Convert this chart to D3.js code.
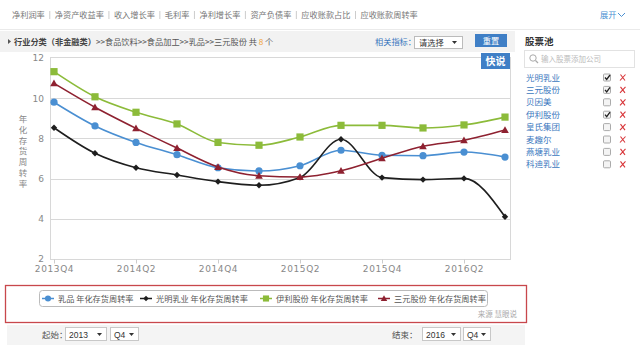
<!DOCTYPE html>
<html>
<head>
<meta charset="utf-8">
<script src="https://cdn.jsdelivr.net/npm/d3@7"></script>
<style>
  body { margin: 0; background: #fff; }
  svg { display: block; font-family: "Noto Sans CJK SC", "Noto Sans", sans-serif; }
</style>
</head>
<body>
<div id="chart"></div>
<script>
// Datos del gráfico
const quarters = ["2013Q4", "2014Q1", "2014Q2", "2014Q3", "2014Q4", "2015Q1",
                  "2015Q2", "2015Q3", "2015Q4", "2016Q1", "2016Q2", "2016Q3"];
const tickQuarters = ["2013Q4", "2014Q2", "2014Q4", "2015Q2", "2015Q4", "2016Q2"];
const yTicks = [2, 4, 6, 8, 10, 12];

const ruPin   = [9.80, 8.62, 7.80, 7.19, 6.54, 6.38, 6.64, 7.41, 7.16, 7.14, 7.32, 7.07];
const guangMing = [8.53, 7.26, 6.54, 6.18, 5.85, 5.67, 6.06, 7.96, 6.05, 5.95, 6.01, 4.10];
const yiLi    = [11.32, 10.07, 9.30, 8.72, 7.80, 7.66, 8.07, 8.65, 8.65, 8.52, 8.67, 9.06];
const sanYuan = [10.74, 9.55, 8.50, 7.52, 6.58, 6.14, 6.08, 6.39, 7.01, 7.61, 7.91, 8.42];

const seriesNames = ["乳品 年化存货周转率", "光明乳业 年化存货周转率", "伊利股份 年化存货周转率", "三元股份 年化存货周转率"];

const tabs = ["净利润率", "净资产收益率", "收入增长率", "毛利率", "净利增长率", "资产负债率", "应收账款占比", "应收账款周转率"];
const stockPool = ["光明乳业", "三元股份", "贝因美", "伊利股份", "皇氏集团", "麦趣尔", "燕塘乳业", "科迪乳业"];
const stockChecked = [true, true, false, true, false, false, false, false];

const series = [
    { name: seriesNames[0], values: ruPin, color: "#4a8fd2", marker: "circle" },
    { name: seriesNames[1], values: guangMing, color: "#1e1e1e", marker: "diamond" },
    { name: seriesNames[2], values: yiLi, color: "#8cbb3a", marker: "square" },
    { name: seriesNames[3], values: sanYuan, color: "#8e2130", marker: "triangle" }
];

const svg = d3.select("#chart").append("svg")
    .attr("width", 640)
    .attr("height", 352);

// Barra de pestañas superior
let tx = 12;
tabs.forEach((t, i) => {
    const txt = svg.append("text")
        .attr("x", tx).attr("y", 18)
        .attr("font-size", 8.2).attr("fill", "#777")
        .text(t);
    const w = txt.node().getComputedTextLength();
    if (i < tabs.length - 1) {
        svg.append("line")
            .attr("x1", tx + w + 5).attr("x2", tx + w + 5)
            .attr("y1", 11).attr("y2", 19)
            .attr("stroke", "#ccc");
    }
    tx += w + 10;
});
svg.append("text").attr("x", 600).attr("y", 18)
    .attr("font-size", 8.2).attr("fill", "#4a8fd2").text("展开");
svg.append("path").attr("d", "M618,13 L621.5,16.5 L625,13")
    .attr("fill", "none").attr("stroke", "#4a8fd2").attr("stroke-width", 1);
svg.append("line").attr("x1", 0).attr("x2", 640).attr("y1", 29.5).attr("y2", 29.5)
    .attr("stroke", "#eaeaea");

// Fila de migas de pan
svg.append("rect").attr("x", 0).attr("y", 31).attr("width", 515).attr("height", 21)
    .attr("fill", "#f2f2f2");
svg.append("path").attr("d", "M8,39 L11,41.5 L8,44 Z").attr("fill", "#555");
const crumb = svg.append("text").attr("x", 14).attr("y", 45)
    .attr("font-size", 8.2).attr("fill", "#555");
crumb.append("tspan").attr("font-weight", "bold").attr("fill", "#444").text("行业分类（非金融类）");
crumb.append("tspan").text(">>食品饮料>>食品加工>>乳品>>三元股份  共 ");
crumb.append("tspan").attr("fill", "#f0a030").text("8");
crumb.append("tspan").text(" 个");

svg.append("text").attr("x", 375).attr("y", 45)
    .attr("font-size", 8.2).attr("fill", "#3b78be").text("相关指标：");
svg.append("rect").attr("x", 414.5).attr("y", 36.5).attr("width", 48).attr("height", 12)
    .attr("fill", "#fff").attr("stroke", "#bbb");
svg.append("text").attr("x", 419).attr("y", 45.5)
    .attr("font-size", 8.2).attr("fill", "#333").text("请选择");
svg.append("path").attr("d", "M452,41 L457,41 L454.5,44 Z").attr("fill", "#333");
svg.append("rect").attr("x", 475).attr("y", 34).attr("width", 32).attr("height", 13)
    .attr("fill", "#3f7fc6");
svg.append("text").attr("x", 491).attr("y", 44).attr("text-anchor", "middle")
    .attr("font-size", 8.2).attr("fill", "#fff").text("重置");

// Área del gráfico
const x = d3.scalePoint().domain(quarters).range([54, 505]);
const y = d3.scaleLinear().domain([2, 12]).range([259, 58]);

svg.append("rect").attr("x", 50.5).attr("y", 57.5).attr("width", 460).attr("height", 202)
    .attr("fill", "none").attr("stroke", "#d8d8d8");

svg.append("g")
    .selectAll("line")
    .data(yTicks.filter(d => d > 2 && d < 12))
    .join("line")
    .attr("x1", 50).attr("x2", 511)
    .attr("y1", d => Math.round(y(d)) + 0.5).attr("y2", d => Math.round(y(d)) + 0.5)
    .attr("stroke", "#d8d8d8");

const yAxis = svg.append("g")
    .attr("transform", "translate(44,0)")
    .call(d3.axisLeft(y).tickValues(yTicks).tickSize(0).tickPadding(0));
yAxis.select(".domain").remove();
yAxis.selectAll("text").attr("font-size", 9).attr("fill", "#888")
    .attr("font-family", "'DejaVu Sans', sans-serif");

const xAxis = svg.append("g")
    .attr("transform", "translate(0,259.5)")
    .call(d3.axisBottom(x).tickValues(tickQuarters).tickSize(4).tickPadding(2));
xAxis.select(".domain").remove();
xAxis.selectAll("line").attr("stroke", "#ccc");
xAxis.selectAll("text").attr("font-size", 9).attr("fill", "#888")
    .attr("letter-spacing", 0.6)
    .attr("font-family", "'DejaVu Sans', sans-serif");

// Título eje Y (vertical)
const yTitle = "年化存货周转率";
svg.append("g").selectAll("text")
    .data(yTitle.split(""))
    .join("text")
    .attr("x", 23).attr("y", (d, i) => 122 + i * 10.8)
    .attr("text-anchor", "middle")
    .attr("font-size", 8.5).attr("fill", "#888")
    .text(d => d);

// Marcadores
function drawMarker(g, type, color, cx, cy, s) {
    if (type === "circle") {
        g.append("circle").attr("cx", cx).attr("cy", cy).attr("r", 3.6 * s).attr("fill", color);
    } else if (type === "square") {
        g.append("rect").attr("x", cx - 3.6 * s).attr("y", cy - 3.6 * s)
            .attr("width", 7.2 * s).attr("height", 7.2 * s).attr("fill", color);
    } else if (type === "diamond") {
        g.append("path").attr("d", `M${cx},${cy - 3.2 * s} L${cx + 3.2 * s},${cy} L${cx},${cy + 3.2 * s} L${cx - 3.2 * s},${cy} Z`)
            .attr("fill", color);
    } else {
        g.append("path").attr("d", `M${cx},${cy - 3.8 * s} L${cx + 3.8 * s},${cy + 3 * s} L${cx - 3.8 * s},${cy + 3 * s} Z`)
            .attr("fill", color);
    }
}

const line = d3.line()
    .x((d, i) => x(quarters[i]))
    .y(d => y(d))
    .curve(d3.curveMonotoneX);

series.forEach(s => {
    const g = svg.append("g");
    g.append("path")
        .attr("d", line(s.values))
        .attr("fill", "none")
        .attr("stroke", s.color)
        .attr("stroke-width", 1.6);
    s.values.forEach((v, i) => drawMarker(g, s.marker, s.color, x(quarters[i]), y(v), 1));
});

// Insignia "快说"
svg.append("rect").attr("x", 481).attr("y", 53).attr("width", 29).attr("height", 16)
    .attr("fill", "#3f7fc6");
svg.append("text").attr("x", 495.5).attr("y", 65).attr("text-anchor", "middle")
    .attr("font-size", 10).attr("font-weight", "bold").attr("fill", "#fff").text("快说");

// Leyenda
svg.append("rect").attr("x", 5.5).attr("y", 285.5).attr("width", 521).attr("height", 37)
    .attr("fill", "none").attr("stroke", "#c8474c").attr("stroke-width", 1.3);
svg.append("rect").attr("x", 39.5).attr("y", 290.5).attr("width", 448).attr("height", 16)
    .attr("rx", 3).attr("fill", "#fff").attr("stroke", "#bbb");

const legendX = [42, 140, 260, 378];
series.forEach((s, i) => {
    const g = svg.append("g").attr("transform", `translate(${legendX[i]},298.5)`);
    g.append("line").attr("x1", 0).attr("x2", 12).attr("stroke", s.color).attr("stroke-width", 1.5);
    drawMarker(g, s.marker, s.color, 6, 0, 0.85);
    g.append("text").attr("x", 16).attr("y", 3)
        .attr("font-size", 8.2).attr("fill", "#555").text(s.name);
});
svg.append("text").attr("x", 517).attr("y", 317).attr("text-anchor", "end")
    .attr("font-size", 7.5).attr("fill", "#aaa").text("来源 慧眼说");

// Controles inferiores
svg.append("rect").attr("x", 7).attr("y", 325).attr("width", 518).attr("height", 20)
    .attr("fill", "#f4f4f4");

function selectBox(x0, w, label) {
    svg.append("rect").attr("x", x0 + 0.5).attr("y", 327.5).attr("width", w).attr("height", 13)
        .attr("fill", "#fff").attr("stroke", "#c8c8c8");
    svg.append("text").attr("x", x0 + 4).attr("y", 337.5)
        .attr("font-size", 8.5).attr("fill", "#333")
        .attr("font-family", "'Liberation Sans', sans-serif")
        .text(label);
    svg.append("path").attr("d", `M${x0 + w - 9},333 L${x0 + w - 4},333 L${x0 + w - 6.5},336 Z`).attr("fill", "#333");
}
svg.append("text").attr("x", 42).attr("y", 338)
    .attr("font-size", 8.5).attr("fill", "#555").text("起始：");
selectBox(65, 41, "2013");
selectBox(110, 28, "Q4");
svg.append("text").attr("x", 392).attr("y", 338)
    .attr("font-size", 8.5).attr("fill", "#555").text("结束：");
selectBox(422, 38, "2016");
selectBox(463, 27, "Q4");

// Panel derecho: 股票池
svg.append("text").attr("x", 525).attr("y", 45)
    .attr("font-size", 9.5).attr("font-weight", "bold").attr("fill", "#333").text("股票池");
svg.append("rect").attr("x", 524.5).attr("y", 50.5).attr("width", 110).attr("height", 17)
    .attr("fill", "#fff").attr("stroke", "#e2e2e2");
svg.append("circle").attr("cx", 533).attr("cy", 58).attr("r", 3.2)
    .attr("fill", "none").attr("stroke", "#aaa").attr("stroke-width", 1);
svg.append("line").attr("x1", 535.5).attr("y1", 60.5).attr("x2", 538).attr("y2", 63)
    .attr("stroke", "#aaa").attr("stroke-width", 1.2);
svg.append("text").attr("x", 541).attr("y", 61.5)
    .attr("font-size", 7.5).attr("fill", "#bbb").text("输入股票添加公司");

const rows = svg.append("g").selectAll("g")
    .data(stockPool)
    .join("g")
    .attr("transform", (d, i) => `translate(0,${77.5 + i * 12.4})`);
rows.append("text").attr("x", 526).attr("y", 3)
    .attr("font-size", 8.5).attr("fill", "#3b78be").text(d => d);
rows.append("rect").attr("x", 603.5).attr("y", -3.5).attr("width", 7).attr("height", 7)
    .attr("rx", 1).attr("fill", "#f4f4f4").attr("stroke", "#aaa");
rows.filter((d, i) => stockChecked[i]).append("path")
    .attr("d", "M605,0 L606.7,2 L610,-2.5")
    .attr("fill", "none").attr("stroke", "#222").attr("stroke-width", 1.3);
rows.append("path")
    .attr("d", "M620.5,-3 L625,3 M625.5,-3 L620,3")
    .attr("fill", "none").attr("stroke", "#d8363a").attr("stroke-width", 1.1);
</script>
</body>
</html>
